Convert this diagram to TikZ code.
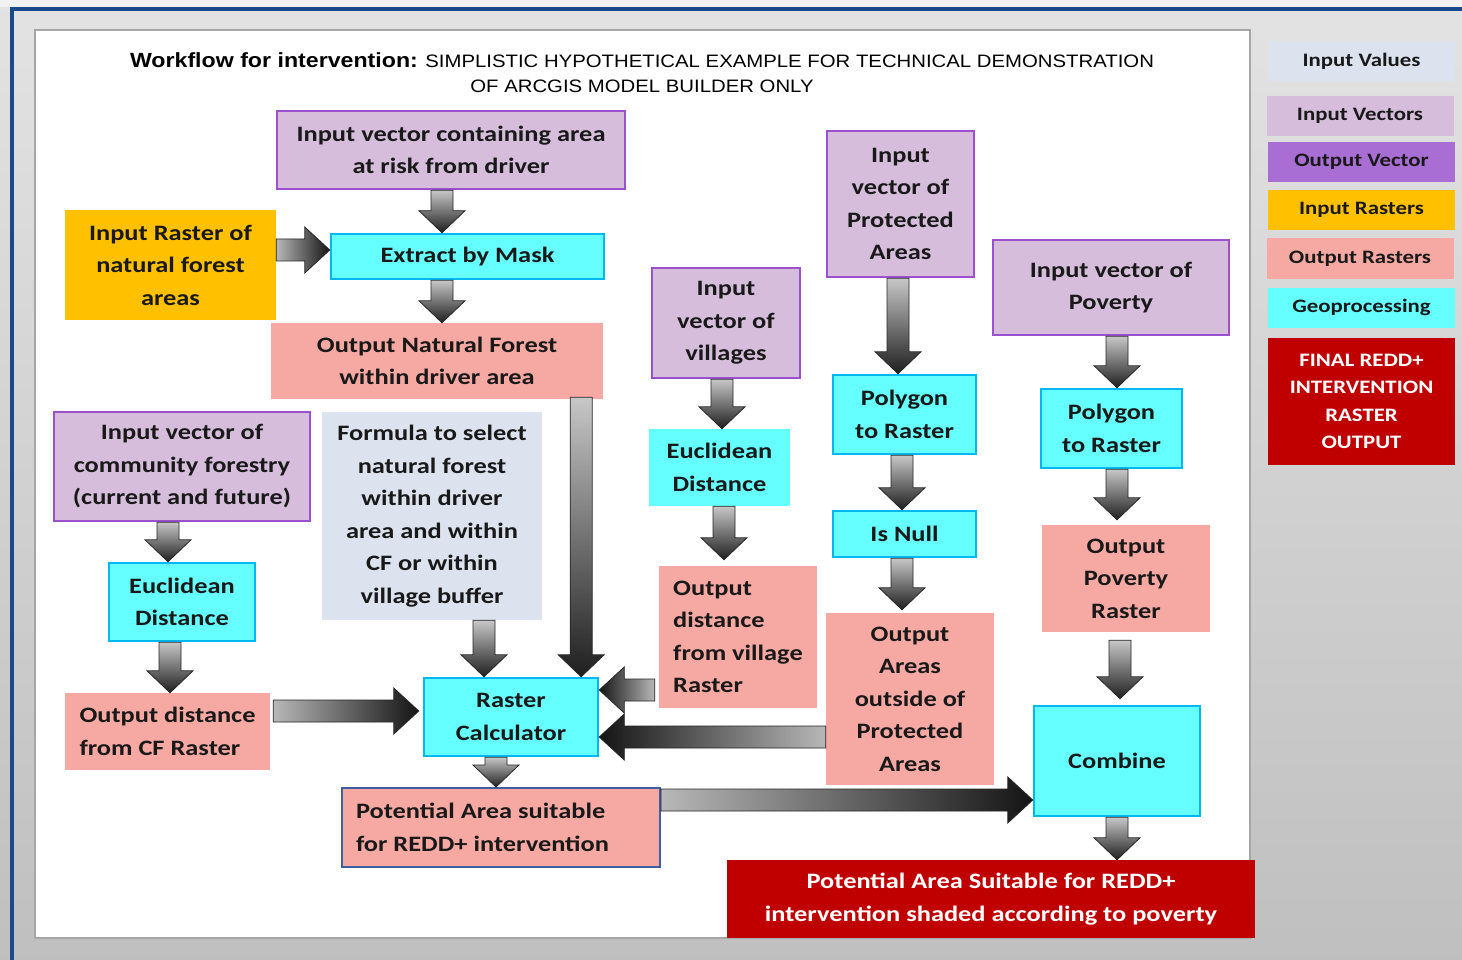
\documentclass[tikz,border=0pt]{standalone}
\usepackage{fontspec}
\setmainfont{Carlito}[FakeStretch=1.2]
\newfontfamily\titlefont{Liberation Sans}[FakeStretch=1.13]
\usepackage{xcolor}
\usepackage{tikz}
\usetikzlibrary{shapes,calc}
\definecolor{vecfill}{RGB}{213,189,219}
\definecolor{vecline}{RGB}{155,80,205}
\definecolor{outvec}{RGB}{168,110,212}
\definecolor{geofill}{RGB}{102,255,255}
\definecolor{geoline}{RGB}{0,184,240}
\definecolor{rasfill}{RGB}{246,169,163}
\definecolor{inrasfill}{RGB}{255,192,0}
\definecolor{valfill}{RGB}{220,227,239}
\definecolor{finalred}{RGB}{192,0,0}
\definecolor{potline}{RGB}{63,95,159}
\definecolor{frameblue}{RGB}{26,74,140}
\tikzstyle{box} = [rectangle, inner sep=0pt, align=center, text=black!90, font=\bfseries\fontsize{22}{32.5}\selectfont]
\tikzstyle{invec} = [box, fill=vecfill, draw=vecline, line width=2.5pt]
\tikzstyle{geo} = [box, fill=geofill, draw=geoline, line width=2.5pt]
\tikzstyle{geoplain} = [box, fill=geofill]
\tikzstyle{outras} = [box, fill=rasfill]
\tikzstyle{inras} = [box, fill=inrasfill]
\tikzstyle{inval} = [box, fill=valfill]
\tikzstyle{final} = [box, fill=finalred, text=white]
\tikzstyle{legend} = [rectangle, inner sep=0pt, align=center, text=black!90, font=\bfseries\fontsize{19}{27.5}\selectfont, minimum width=187pt, minimum height=40pt]
\tikzstyle{flowv} = [draw=black!85, line width=0.8pt, top color=black!22, bottom color=black!88]
\tikzstyle{flowr} = [draw=black!85, line width=0.8pt, left color=black!28, right color=black!92]
\tikzstyle{flowl} = [draw=black!85, line width=0.8pt, right color=black!28, left color=black!92]
% fat block arrows: tail point, then the node border that the tip touches
\newcommand{\flowdown}[2]{%
  \path[flowv] let \p1=(#1), \p2=(#2) in
    (\x1-11pt,\y1) -- (\x1-11pt,\y2+22pt) -- (\x1-23pt,\y2+22pt) -- (\x1,\y2)
    -- (\x1+23pt,\y2+22pt) -- (\x1+11pt,\y2+22pt) -- (\x1+11pt,\y1) -- cycle;}
\newcommand{\flowright}[2]{%
  \path[flowr] let \p1=(#1), \p2=(#2) in
    (\x1,\y1+11pt) -- (\x2-25pt,\y1+11pt) -- (\x2-25pt,\y1+23pt) -- (\x2,\y1)
    -- (\x2-25pt,\y1-23pt) -- (\x2-25pt,\y1-11pt) -- (\x1,\y1-11pt) -- cycle;}
\newcommand{\flowleft}[2]{%
  \path[flowl] let \p1=(#1), \p2=(#2) in
    (\x1,\y1+11pt) -- (\x2+25pt,\y1+11pt) -- (\x2+25pt,\y1+23pt) -- (\x2,\y1)
    -- (\x2+25pt,\y1-23pt) -- (\x2+25pt,\y1-11pt) -- (\x1,\y1-11pt) -- cycle;}

\begin{document}
\begin{tikzpicture}[x=1pt,y=-1pt]
\useasboundingbox (0,0) rectangle (1462,960);
% background and frame
\fill[top color=gray!22, bottom color=gray!50] (0,0) rectangle (1462,960);
\fill[gray!10] (0,0) rectangle (1462,7);
\draw[frameblue, line width=4pt] (12,960) -- (12,9) -- (1462,9);
\draw[gray!70, line width=2pt, fill=white] (35,30) rectangle (1250,938);
\node[align=center, font=\titlefont\fontsize{18}{25}\selectfont] (title) at (642,73)
  {{\fontsize{20.5}{25}\selectfont\bfseries Workflow for intervention:} SIMPLISTIC HYPOTHETICAL EXAMPLE FOR TECHNICAL DEMONSTRATION\\OF ARCGIS MODEL BUILDER ONLY};

% legend
\node[legend, fill=valfill] (lg-val) at (1361.5,61.5) {Input Values};
\node[legend, fill=vecfill] (lg-invec) at (1360,116) {Input Vectors};
\node[legend, fill=outvec] (lg-outvec) at (1361.5,162) {Output Vector};
\node[legend, fill=inrasfill] (lg-inras) at (1361.5,210) {Input Rasters};
\node[legend, fill=rasfill] (lg-outras) at (1360,258.5) {Output Rasters};
\node[legend, fill=geofill] (lg-geo) at (1361.5,307.5) {Geoprocessing};
\node[legend, fill=finalred, text=white, minimum height=127pt] (lg-final) at (1361.5,401.5) {FINAL REDD+\\INTERVENTION\\RASTER\\OUTPUT};

% forest branch
\node[invec, minimum width=348pt, minimum height=78pt] (risk) at (451,150) {Input vector containing area\\at risk from driver};
\node[inras, minimum width=211pt, minimum height=110pt] (in-raster) at (170.5,265) {Input Raster of\\natural forest\\areas};
\node[geo, minimum width=273pt, minimum height=45pt] (extract) at (467.5,256.5) {Extract by Mask};
\node[outras, minimum width=332pt, minimum height=76pt] (out-forest) at (437,361) {Output Natural Forest\\within driver area};

% villages branch
\node[invec, minimum width=148pt, minimum height=110pt] (villages) at (726,323) {Input\\vector of\\villages};
\node[geoplain, minimum width=141pt, minimum height=77pt] (euc-vill) at (719.5,467.5) {Euclidean\\Distance};
\node[outras, align=left, minimum width=158pt, minimum height=142pt] (out-vill) at (738,637) {Output\\distance\\from village\\Raster};

% protected areas branch
\node[invec, minimum width=147pt, minimum height=146pt] (protected) at (900.5,204) {Input\\vector of\\Protected\\Areas};
\node[geo, minimum width=143pt, minimum height=79pt] (poly-prot) at (904.5,414.5) {Polygon\\to Raster};
\node[geo, minimum width=143pt, minimum height=46pt] (is-null) at (904.5,534) {Is Null};
\node[outras, minimum width=168pt, minimum height=172pt] (out-areas) at (910,699) {Output\\Areas\\outside of\\Protected\\Areas};

% poverty branch
\node[invec, minimum width=236pt, minimum height=95pt] (poverty) at (1111,287.5) {Input vector of\\Poverty};
\node[geo, minimum width=141pt, minimum height=79pt] (poly-pov) at (1111.5,428.5) {Polygon\\to Raster};
\node[outras, minimum width=168pt, minimum height=107pt] (out-pov) at (1126,578.5) {Output\\Poverty\\Raster};
\node[geo, minimum width=166pt, minimum height=110pt] (combine) at (1117,761) {Combine};
\node[final, minimum width=528pt, minimum height=78pt] (result) at (991,899) {Potential Area Suitable for REDD+\\intervention shaded according to poverty};

% community forestry branch
\node[invec, minimum width=256pt, minimum height=109pt] (cf) at (182,466.5) {Input vector of\\community forestry\\(current and future)};
\node[inval, minimum width=220pt, minimum height=208pt] (formula) at (432,516) {Formula to select\\natural forest\\within driver\\area and within\\CF or within\\village buffer};
\node[geo, minimum width=146pt, minimum height=78pt] (euc-cf) at (182,602) {Euclidean\\Distance};
\node[outras, align=left, minimum width=205pt, minimum height=77pt] (out-cf) at (167.5,731.5) {Output distance\\from CF Raster};
\node[geo, minimum width=174pt, minimum height=78pt] (calc) at (511,717) {Raster\\Calculator};
\node[outras, draw=potline, line width=2pt, text width=290pt, align=flush left, minimum width=318pt, minimum height=79pt] (pot-area) at (501,827.5) {Potential Area suitable\\for REDD+ intervention};

% connectors
\flowdown{[xshift=-9pt]risk.south}{extract.north}
\flowright{[yshift=15pt]in-raster.east}{extract.west}
\flowdown{[xshift=-25.5pt]extract.south}{out-forest.north}
\flowdown{[xshift=-22pt,yshift=2pt]out-forest.south east}{calc.north}
\flowdown{[xshift=-4pt]villages.south}{euc-vill.north}
\flowdown{[xshift=4.5pt]euc-vill.south}{[yshift=6pt]out-vill.north}
\flowdown{[xshift=-2.5pt]protected.south}{poly-prot.north}
\flowdown{[xshift=-2.5pt]poly-prot.south}{is-null.north}
\flowdown{[xshift=-2.5pt]is-null.south}{[yshift=3pt]out-areas.north}
\flowdown{[xshift=6pt]poverty.south}{poly-pov.north}
\flowdown{[xshift=5.5pt]poly-pov.south}{[yshift=5pt]out-pov.north}
\flowdown{[xshift=-6pt,yshift=-8pt]out-pov.south}{[yshift=6pt]combine.north}
\flowdown{combine.south}{result.north}
\flowdown{[xshift=-14pt]cf.south}{euc-cf.north}
\flowdown{[xshift=-12pt]euc-cf.south}{out-cf.north}
\flowright{[yshift=20.5pt,xshift=3pt]out-cf.east}{[xshift=-4pt]calc.west}
\flowdown{[xshift=52pt]formula.south}{calc.north}
\flowleft{[yshift=-53pt,xshift=-4pt]out-vill.west}{calc.east}
\flowleft{[yshift=-38pt]out-areas.west}{calc.east}
\flowdown{[xshift=-15pt]calc.south}{pot-area.north}
\flowright{[yshift=27.5pt]pot-area.east}{combine.west}
\end{tikzpicture}
\end{document}
